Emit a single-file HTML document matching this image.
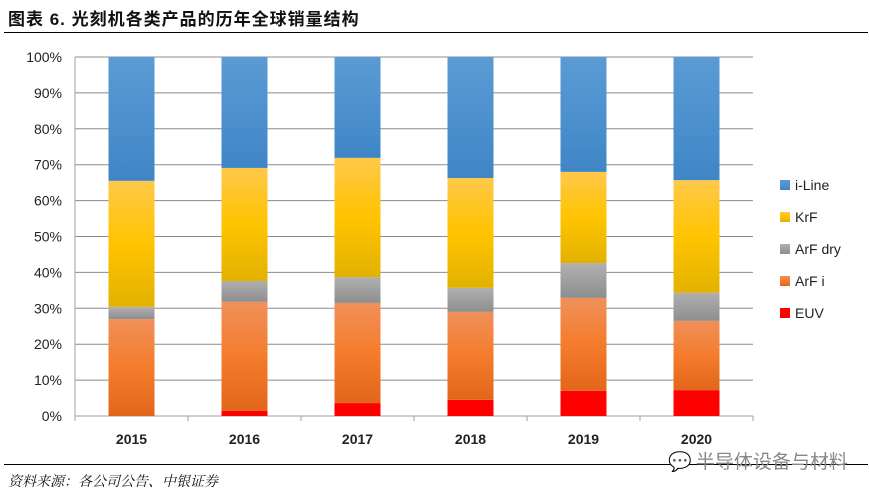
<!DOCTYPE html>
<html><head><meta charset="utf-8"><style>
body{margin:0;background:#fff;width:869px;height:496px;overflow:hidden;position:relative;font-family:"Liberation Sans","Noto Sans CJK SC",sans-serif}
#title{position:absolute;left:8px;top:5px;font-size:17px;font-weight:bold;color:#111;letter-spacing:1px}
#tline{position:absolute;left:4px;top:32px;width:864px;height:1px;background:#000}
#bline{position:absolute;left:4px;top:464px;width:864px;height:1px;background:#000}
#src{position:absolute;left:8px;top:471px;font-size:14px;font-style:italic;color:#111;font-family:"Noto Serif CJK SC",serif}
#wm{position:absolute;left:668px;top:447px;font-size:19px;color:#888;font-family:"Noto Sans CJK SC",sans-serif}
</style></head><body>
<div id="title">图表 6. 光刻机各类产品的历年全球销量结构</div>
<div id="tline"></div>
<svg id="chart" width="869" height="496" style="position:absolute;left:0;top:0">
<defs>
<linearGradient id="gBlue" x1="0" y1="0" x2="0" y2="1"><stop offset="0" stop-color="#5b9bd5"/><stop offset="1" stop-color="#3f86c6"/></linearGradient>
<linearGradient id="gKrF" x1="0" y1="0" x2="0" y2="1"><stop offset="0" stop-color="#ffc84a"/><stop offset="0.5" stop-color="#ffc400"/><stop offset="1" stop-color="#e2b200"/></linearGradient>
<linearGradient id="gGray" x1="0" y1="0" x2="0" y2="1"><stop offset="0" stop-color="#b0b0b0"/><stop offset="1" stop-color="#8e8e8e"/></linearGradient>
<linearGradient id="gOr" x1="0" y1="0" x2="0" y2="1"><stop offset="0" stop-color="#f0905a"/><stop offset="0.5" stop-color="#f47c2c"/><stop offset="1" stop-color="#e2661a"/></linearGradient>
<linearGradient id="gRed" x1="0" y1="0" x2="0" y2="1"><stop offset="0" stop-color="#ff0000"/><stop offset="1" stop-color="#ff0000"/></linearGradient>
</defs>
<g id="grid"></g><g id="bars"></g><g id="axes"></g><g id="legend"></g>
</svg>
<div id="bline"></div>
<div id="src">资料来源：各公司公告、中银证券</div>
<div id="wm">💬 半导体设备与材料</div>
<script>
const categories=["2015","2016","2017","2018","2019","2020"];
const euv=[0,1.4,3.6,4.5,7.0,7.2];
const arfi=[27.0,30.4,27.9,24.5,25.9,19.3];
const arfdry=[3.4,5.8,7.2,6.7,9.7,7.8];
const krf=[35.1,31.5,33.2,30.6,25.4,31.4];
const iline=[34.5,30.9,28.1,33.7,32.0,34.3];
const yTicks=[0,10,20,30,40,50,60,70,80,90,100];
const seriesNames=["EUV","ArF i","ArF dry","KrF","i-Line"];
const NS="http://www.w3.org/2000/svg";
const L=75,R=753,T=57,B=416;
const y=v=>B-(B-T)*v/100;
const band=(R-L)/categories.length;
const xc=i=>L+band*(i+0.5);
const bw=46;
function mk(tag,attrs,parent){const e=document.createElementNS(NS,tag);for(const k in attrs)e.setAttribute(k,attrs[k]);parent.appendChild(e);return e;}
const grid=document.getElementById('grid'),bars=document.getElementById('bars'),axes=document.getElementById('axes'),leg=document.getElementById('legend');
yTicks.forEach(t=>{
 const l=mk('line',{x1:L,x2:R,y1:y(t),y2:y(t),stroke:t===0?'#a0a0a0':'#8c8c8c','stroke-width':1},grid);
 
 
 const tx=mk('text',{x:62,y:y(t)+5,'text-anchor':'end','font-size':14,fill:'#222'},axes);
 tx.textContent=t+'%';
 
 
});
const va=mk('line',{x1:L,x2:L,y1:T,y2:B,stroke:'#a0a0a0'},axes);


for(let i=0;i<=categories.length;i++){const tk=mk('line',{x1:L+band*i,x2:L+band*i,y1:B,y2:B+5,stroke:'#a0a0a0'},axes);
 
 }
const series=[euv,arfi,arfdry,krf,iline];
const fills=['url(#gRed)','url(#gOr)','url(#gGray)','url(#gKrF)','url(#gBlue)'];
categories.forEach((c,i)=>{
 let cum=0;
 series.forEach((s,k)=>{
  const v=s[i];
  if(v>0){const r=mk('rect',{x:xc(i)-bw/2,y:y(cum+v),width:bw,height:y(cum)-y(cum+v),fill:fills[k]},bars);
   
   }
  cum+=v;
 });
 const t=mk('text',{x:xc(i),y:444,'text-anchor':'middle','font-size':14,'font-weight':'bold',fill:'#222'},axes);
 t.textContent=c;
 
 
});
const legOrder=[4,3,2,1,0];
legOrder.forEach((k,j)=>{
 const cy=185+j*32;
 const r=mk('rect',{x:780,y:cy-5,width:10,height:10,fill:fills[k]},leg);
 
 
 const t=mk('text',{x:795,y:cy+5,'font-size':14,fill:'#222'},leg);
 t.textContent=seriesNames[k];
 
 
});
</script>
</body></html>
